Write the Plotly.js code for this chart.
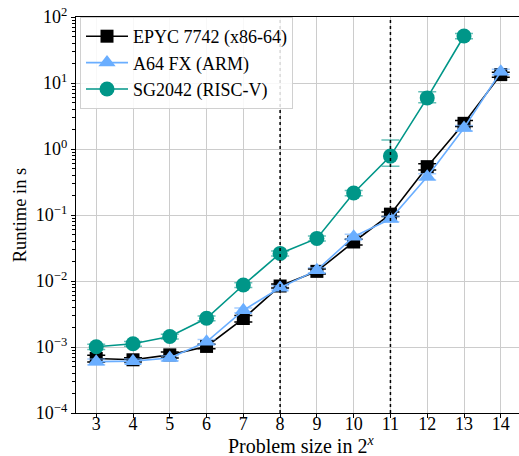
<!DOCTYPE html>
<html>
<head>
<meta charset="utf-8">
<script src="https://cdn.plot.ly/plotly-3.0.1.min.js"></script>
<style>
html, body { margin: 0; padding: 0; overflow: hidden; background: #fff; }
#chart { width: 521px; height: 456px; }
</style>
</head>
<body>
<div id="chart"></div>
<script>
// ---- data ----
const problemSize = [3, 4, 5, 6, 7, 8, 9, 10, 11, 12, 13, 14];

const epycRuntime  = [6.7e-4, 6.4e-4, 7.6e-4, 1.02e-3, 2.7e-3, 8.4e-3, 0.0140, 0.039, 0.103, 0.54, 2.45, 13.4];
const epycErrPlus  = [0.8e-4, 0.5e-4, 0.8e-4, 0.08e-3, 0.3e-3, 0.6e-3, 0.0012, 0.004, 0.008, 0.06, 0.25, 1.2];
const epycErrMinus = [0.8e-4, 0.5e-4, 0.8e-4, 0.08e-3, 0.3e-3, 0.6e-3, 0.0012, 0.004, 0.008, 0.06, 0.25, 1.2];

const a64Runtime   = [6.0e-4, 6.1e-4, 6.8e-4, 1.2e-3, 3.6e-3, 7.9e-3, 0.0146, 0.047, 0.087, 0.38, 2.08, 14.8];
const a64ErrPlus   = [0.6e-4, 0.5e-4, 0.6e-4, 0.1e-3, 0.3e-3, 0.6e-3, 0.0013, 0.004, 0.008, 0.04, 0.2, 1.3];
const a64ErrMinus  = [0.6e-4, 0.5e-4, 0.6e-4, 0.1e-3, 0.3e-3, 0.6e-3, 0.0013, 0.004, 0.008, 0.04, 0.2, 1.3];

const sgRuntime    = [1.01e-3, 1.12e-3, 1.44e-3, 2.72e-3, 8.7e-3, 0.0262, 0.0442, 0.215, 0.78, 5.95, 51.5];
const sgErrPlus    = [0.09e-3, 0.09e-3, 0.12e-3, 0.22e-3, 0.7e-3, 0.0022, 0.0040, 0.020, 0.59, 1.45, 4.5];
const sgErrMinus   = [0.09e-3, 0.09e-3, 0.12e-3, 0.22e-3, 0.7e-3, 0.0022, 0.0040, 0.020, 0.23, 0.95, 4.5];

const seriesNames = ['EPYC 7742 (x86-64)', 'A64 FX (ARM)', 'SG2042 (RISC-V)'];

const yTickVals = [1e-4, 1e-3, 1e-2, 1e-1, 1e0, 1e1, 1e2];
const yTickText = ['10<sup>−4</sup>', '10<sup>−3</sup>', '10<sup>−2</sup>', '10<sup>−1</sup>', '10<sup>0</sup>', '10<sup>1</sup>', '10<sup>2</sup>'];
const xTickVals = [3, 4, 5, 6, 7, 8, 9, 10, 11, 12, 13, 14];

const markerLines = [8, 11];

const xTitle = 'Problem size in 2<sup><i>x</i></sup>';
const yTitle = 'Runtime in s';

// minor log ticks (2..9 within each decade)
const yMinorVals = [];
yTickVals.slice(0, -1).forEach(d => { for (let m = 2; m <= 9; m++) yMinorVals.push(d * m); });

// ---- styling ----
const FONT = 'Liberation Serif, Times New Roman, serif';
const BLACK = '#000000';
const BLUE = '#6aaeff';
const TEAL = '#009688';

function trace(name, y, plus, minus, color, ecolor, symbol, size) {
  return {
    type: 'scatter',
    mode: 'lines+markers',
    name: name,
    x: problemSize.slice(0, y.length),
    y: y,
    line: { color: color, width: 1.6 },
    marker: { color: color, symbol: symbol, size: size, line: { width: 0 } },
    error_y: {
      type: 'data', symmetric: false,
      array: plus, arrayminus: minus,
      color: ecolor, thickness: 1.5, width: 9
    }
  };
}

const data = [
  trace(seriesNames[0], epycRuntime, epycErrPlus, epycErrMinus, BLACK, BLACK, 'square', 13),
  trace(seriesNames[1], a64Runtime, a64ErrPlus, a64ErrMinus, BLUE, 'rgba(106,174,255,0.6)', 'triangle-up', 15),
  trace(seriesNames[2], sgRuntime, sgErrPlus, sgErrMinus, TEAL, 'rgba(0,150,136,0.6)', 'circle', 15)
];

const shapes = markerLines.map(v => ({
  type: 'line', xref: 'x', yref: 'paper',
  x0: v, x1: v, y0: 0, y1: 1,
  line: { color: '#000', width: 1.5, dash: 'dot' },
  layer: 'above'
}));

const layout = {
  width: 521, height: 456,
  margin: { l: 76, r: 0, t: 17, b: 43, pad: 0 },
  paper_bgcolor: '#fff', plot_bgcolor: '#fff',
  font: { family: FONT, size: 18, color: '#000' },
  showlegend: true,
  legend: {
    x: 0.009, y: 1.0, xanchor: 'left', yanchor: 'top',
    bgcolor: 'rgba(255,255,255,0.85)', bordercolor: '#d0d0d0', borderwidth: 1,
    font: { family: FONT, size: 18, color: '#000' },
    itemwidth: 42, tracegroupgap: 0
  },
  xaxis: {
    range: [2.45, 14.55],
    tickvals: xTickVals,
    showgrid: true, gridcolor: '#cccccc', gridwidth: 1,
    showline: true, linecolor: '#000', linewidth: 1.2, mirror: true,
    ticks: 'outside', ticklen: 4, tickcolor: '#000', tickwidth: 1,
    ticklabelstandoff: -10,
    zeroline: false,
    tickfont: { family: FONT, size: 18 }
  },
  yaxis: {
    type: 'log', range: [-4, 2],
    tickvals: yTickVals, ticktext: yTickText,
    showgrid: true, gridcolor: '#cccccc', gridwidth: 1,
    showline: true, linecolor: '#000', linewidth: 1.2, mirror: true,
    ticks: 'outside', ticklen: 4, tickcolor: '#000', tickwidth: 1,
    minor: { tickmode: 'array', tickvals: yMinorVals, ticks: 'outside', ticklen: 3, tickwidth: 1, tickcolor: '#000', showgrid: false },
    zeroline: false,
    tickfont: { family: FONT, size: 18 },
    title: { text: yTitle, font: { family: FONT, size: 18.5 }, standoff: 4 }
  },
  annotations: [{
    text: xTitle, xref: 'paper', yref: 'paper',
    x: 0.505, y: -0.116, xanchor: 'center', yanchor: 'bottom',
    showarrow: false, font: { family: FONT, size: 20, color: '#000' }
  }],
  shapes: shapes
};

Plotly.newPlot('chart', data, layout, { displayModeBar: false, staticPlot: true });
</script>
</body>
</html>
